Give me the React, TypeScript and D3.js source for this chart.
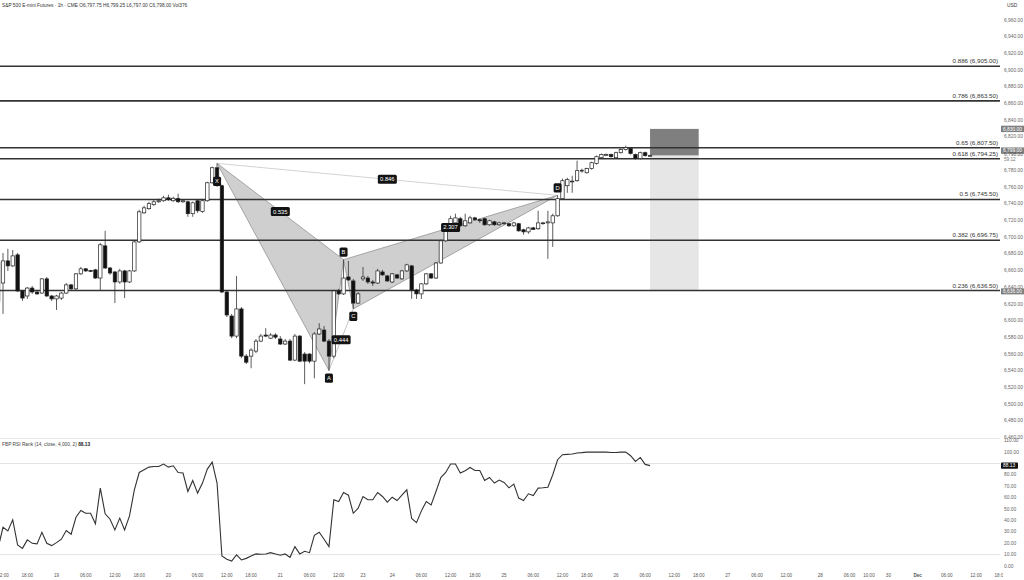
import React from "react";
import * as d3 from "d3";

// ---------- data ----------
const FIRST_BAR = -1; // bar index of the first entry (bar 0 = Nov 18, 12:00)
// [open, high, low, close]
const ohlc: number[][] = [
  [6624, 6678, 6610, 6670],
  [6645.5, 6681.5, 6608.5, 6672], [6672, 6686.5, 6660, 6666], [6666, 6685, 6664.75, 6678], [6679.25, 6681.5, 6634.75, 6636],
  [6636, 6637.25, 6624, 6627.5], [6630, 6640.75, 6626.5, 6639.5], [6639.5, 6642, 6632.5, 6634.75], [6634.75, 6637.25, 6631.25, 6632.5],
  [6633.5, 6651.5, 6632.5, 6650.5], [6650.5, 6652.75, 6628.75, 6630], [6630, 6631.25, 6624, 6626.5], [6626.5, 6631.25, 6613.25, 6630],
  [6627.5, 6634.75, 6625.25, 6633.5], [6633.5, 6645.5, 6632.5, 6643.25], [6643.25, 6644.5, 6637.25, 6638.5], [6638.5, 6657.5, 6636, 6656.5],
  [6656.5, 6664.75, 6655.25, 6662.5], [6662.5, 6663.5, 6658.75, 6660], [6660.5, 6661.25, 6658.75, 6659.5], [6661.25, 6662.5, 6650.5, 6651.5],
  [6651.5, 6693.5, 6636, 6691.25], [6690, 6708, 6662.5, 6663.5], [6663.5, 6664.75, 6655.25, 6657.5], [6658.75, 6660, 6621.5, 6646.75],
  [6646.75, 6662.5, 6644.5, 6660], [6660, 6661.25, 6627.5, 6646.75], [6646.75, 6661.25, 6645.5, 6660], [6660, 6696, 6658.75, 6694.75],
  [6694.75, 6733.25, 6693.5, 6730.75], [6729.5, 6738, 6728.5, 6735.5], [6734.5, 6742.75, 6733.25, 6740.5], [6739.25, 6745.25, 6738, 6742.75],
  [6742.75, 6746.5, 6741.5, 6744], [6744, 6750, 6742.75, 6747.5], [6747.5, 6751.25, 6744, 6745.25], [6744, 6748.75, 6742.75, 6747],
  [6746.5, 6752.5, 6741.5, 6742.75], [6742.75, 6745.25, 6741.5, 6744], [6742.75, 6744, 6724.75, 6728.5], [6728.5, 6743, 6724.75, 6741.5],
  [6744, 6745.25, 6729.5, 6732], [6731, 6745.25, 6729.5, 6744], [6744, 6766.75, 6742.75, 6765.5], [6765.5, 6784.75, 6764.5, 6783.5],
  [6783.5, 6788.75, 6760.75, 6762], [6762, 6763.25, 6633.5, 6634.75], [6634.75, 6636, 6604.75, 6607.25], [6606, 6608.5, 6579.5, 6582],
  [6582, 6654, 6579.5, 6614.5], [6614.5, 6616.75, 6555.5, 6558], [6558, 6560.5, 6548.5, 6550.75], [6558, 6567.5, 6543.5, 6565.25],
  [6564, 6578.5, 6561.5, 6576], [6576, 6584.5, 6574.75, 6582], [6583.25, 6591.5, 6580.75, 6582], [6579.5, 6585.5, 6578.5, 6583.25],
  [6583.25, 6585.5, 6578.5, 6580.75], [6578.5, 6582, 6571.25, 6572.5], [6572.5, 6578.5, 6571.25, 6576], [6576, 6578.5, 6552, 6553.25],
  [6553.25, 6584.5, 6552, 6582], [6582, 6583.25, 6550.75, 6552], [6560.5, 6562.75, 6524.5, 6552], [6560.5, 6561.5, 6549.5, 6552],
  [6552, 6586.75, 6531.5, 6584.5], [6584.5, 6597.5, 6583.25, 6590.5], [6589.25, 6594, 6574.75, 6576], [6576, 6578.5, 6540.75, 6558],
  [6558, 6637.25, 6555.5, 6636], [6636, 6638.5, 6631.25, 6632.5], [6632.5, 6673.5, 6631.25, 6651.5], [6652.75, 6672, 6648, 6649.25],
  [6648, 6650.5, 6614.5, 6621.5], [6621.5, 6634.75, 6620.5, 6632.5], [6650.5, 6664.75, 6648, 6652.75], [6651.5, 6654, 6644.5, 6646.75],
  [6646.75, 6649.25, 6642, 6645.5], [6645.5, 6662.5, 6644.5, 6660], [6658.75, 6661.25, 6654, 6655.25], [6654, 6655.25, 6646.75, 6648],
  [6646.75, 6657.5, 6645.5, 6656.5], [6655.25, 6656.5, 6650.5, 6651.5], [6650.5, 6661.25, 6649.25, 6660], [6660, 6668.5, 6658.75, 6667.25],
  [6666, 6667.25, 6626.5, 6637.25], [6637.25, 6638.5, 6626.5, 6632.5], [6632.5, 6645.5, 6626.5, 6644.5], [6644.5, 6657.5, 6643.25, 6656.5],
  [6656.5, 6657.5, 6650.5, 6651.5], [6651.5, 6670.75, 6650.5, 6669.5], [6669.5, 6697.25, 6668.5, 6696], [6696, 6714, 6694.75, 6711.5],
  [6711.5, 6726, 6710.5, 6722.5], [6717.5, 6728.5, 6716.5, 6723.5], [6722.5, 6724.75, 6712.75, 6714], [6714, 6728.5, 6712.75, 6720],
  [6717.5, 6726, 6716.5, 6723.5], [6723.5, 6724.75, 6720, 6721.25], [6721.25, 6722.5, 6717.5, 6720], [6722.5, 6723.5, 6714, 6715.25],
  [6715.25, 6721.25, 6714, 6720], [6718.75, 6720, 6714, 6715.25], [6715.25, 6718.75, 6714, 6717.5], [6716.5, 6718.75, 6715.25, 6717.5],
  [6716.5, 6717.5, 6712.75, 6714], [6714, 6718.75, 6712.75, 6717.5], [6716.5, 6717.5, 6706.75, 6708], [6709.25, 6710.5, 6703.25, 6706.75],
  [6706.75, 6712.75, 6704.5, 6711.5], [6711.5, 6712.75, 6709.25, 6709.75], [6710.5, 6732, 6709.25, 6717.5], [6717, 6718.75, 6715.25, 6717.5],
  [6717.5, 6732, 6674.5, 6718.75], [6717.5, 6728.5, 6688.75, 6726], [6726, 6750.5, 6724.75, 6746.5], [6746.5, 6770.5, 6745.25, 6768],
  [6762, 6771.5, 6753.5, 6769.25], [6766.75, 6774, 6753.5, 6767.5], [6768, 6792, 6766.75, 6780], [6780, 6782.5, 6777.5, 6780.5],
  [6777.5, 6783.5, 6776.5, 6782.5], [6782.5, 6790.75, 6781.25, 6789.5], [6788.5, 6798, 6787.25, 6796.75], [6795.5, 6800.5, 6794.5, 6799.25],
  [6798.5, 6800.5, 6798, 6799.25], [6799.25, 6800.5, 6795.5, 6796.75], [6795.5, 6802.75, 6794.5, 6801.5], [6801.5, 6806.5, 6800.5, 6805.25],
  [6805.25, 6810, 6804, 6807.5], [6806.5, 6807.5, 6799.25, 6800.5], [6799.25, 6800.5, 6793.25, 6794.5], [6794.5, 6802.75, 6793.25, 6801.5],
  [6801.5, 6802.75, 6796.75, 6798], [6797.75, 6799.25, 6797, 6798],
];

const rsiValues: number[] = [
  15.9,
  34.0, 30.8, 40.5, 18.5, 15.5, 22.9, 19.9, 19.4, 29.6, 19.9,
  17.9, 20.5, 23.5, 31.1, 27.9, 42.8, 48.7, 46.3, 46.3, 37.0,
  68.4, 45.8, 41.1, 31.7, 42.0, 31.7, 44.0, 66.9, 82.1, 84.5,
  86.8, 87.4, 87.4, 89.5, 86.8, 88.0, 82.1, 81.6, 65.4, 75.1,
  64.0, 72.8, 85.1, 91.2, 72.8, 8.8, 5.9, 4.4, 9.7, 5.3,
  6.7, 8.8, 10.6, 10.3, 10.6, 11.7, 10.6, 9.4, 10.6, 7.6,
  17.0, 10.6, 12.9, 11.7, 27.0, 29.6, 23.5, 17.0, 58.1, 56.6,
  64.5, 62.2, 46.3, 50.7, 61.0, 58.1, 58.1, 64.5, 61.0, 56.0,
  60.4, 57.5, 62.2, 66.9, 41.7, 38.1, 48.4, 56.6, 53.7, 65.4,
  77.7, 82.1, 89.5, 89.5, 81.6, 83.6, 86.5, 83.9, 83.9, 75.1,
  77.7, 72.8, 75.4, 73.3, 68.6, 71.9, 59.6, 57.5, 63.4, 61.9,
  68.4, 68.7, 69.2, 80.1, 93.3, 97.7, 98.0, 98.3, 99.2, 99.5,
  100, 100, 100, 100, 100, 99.7, 99.7, 100, 100, 96.8,
  91.8, 95.3, 89.2, 88.13,
];

const fibLevels = [0.236, 0.382, 0.5, 0.618, 0.65, 0.786, 0.886];
const fibPrices = [6636.5, 6696.75, 6745.5, 6794.25, 6807.5, 6863.5, 6905.0];

const priceTicks = d3.range(6460, 6961, 20).filter((v) => v !== 6800);
const rsiTicks = d3.range(0, 111, 10).filter((v) => v !== 90);
const rsiLevels = [90, 10];

const timeTickBars = [0, 5, 11, 17, 23, 28, 34, 40, 46, 51, 57, 63, 69, 74, 80, 86, 92, 97, 103, 109, 115, 120, 126, 132, 138, 143, 149, 155, 161, 168, 174, 178, 182, 188, 194, 200, 205];
const timeTickLabels = ["12:00", "18:00", "19", "06:00", "12:00", "18:00", "20", "06:00", "12:00", "18:00", "21", "06:00", "12:00", "23", "24", "06:00", "12:00", "18:00", "25", "06:00", "12:00", "18:00", "26", "06:00", "12:00", "18:00", "27", "06:00", "12:00", "28", "06:00", "10:00", "30", "Dec", "06:00", "12:00", "18:00"];

const patternNames = ["X", "A", "B", "C", "D"];
const patternBars = [44, 67, 70, 72, 114];
const patternPrices = [6788.75, 6540.75, 6673.5, 6614.5, 6750.5];
const ratioLabels = ["0.535", "0.846", "0.444", "2.307"];
const ratioPairs = [[0, 2], [0, 4], [1, 3], [2, 4]];

const positionBars = [133, 143];
const stopPrice = 6830;
const entryPrice = 6798;
const targetPrice = 6636;

const headerText = "S&P 500 E-mini Futures · 1h · CME  O6,797.75  H6,799.25  L6,797.00  C6,798.00  Vol376";

// ---------- chart ----------
const FONT = "'Liberation Sans', Arial, sans-serif";

export default function App() {
  const W = 1024, H = 580, PLOT_R = 1000;
  const x = d3.scaleLinear().domain([0, 1]).range([3, 3 + 4.865]);
  const y = d3.scaleLinear().domain([6460, 6960]).range([438, 20.3]);
  const yr = d3.scaleLinear().domain([0, 110]).range([566, 440.7]);
  const fmt = d3.format(",.2f");
  const bodyW = 3.4;

  const pts = patternBars.map((b, k) => [x(b), y(patternPrices[k])] as [number, number]);
  const tri = (a: number, b: number, c: number) => d3.line()([pts[a], pts[b], pts[c], pts[a]]) as string;
  const rsiLine = d3.line<number>().x((_, k) => x(FIRST_BAR + k)).y((v) => yr(v))(rsiValues) as string;
  const labelOffset = [18, 7.5, -7.5, 7.5, -7.5];

  return (
    <svg width={W} height={H} style={{ position: "fixed", left: 0, top: 0, background: "#fff" }} fontFamily={FONT}>
      <defs>
        <clipPath id="plot"><rect x={0} y={0} width={PLOT_R} height={438} /></clipPath>
        <clipPath id="rsi"><rect x={0} y={439} width={PLOT_R} height={130} /></clipPath>
        <clipPath id="time"><rect x={0} y={568} width={1003} height={12} /></clipPath>
      </defs>
      <rect x={0} y={0} width={W} height={H} fill="#fff" />

      {/* header */}
      <text x={2} y={6.5} fontSize={4.8} fill="#333">{headerText}</text>
      <text x={1007} y={6.5} fontSize={4.8} fill="#333">USD</text>

      <g clipPath="url(#plot)">
        {/* position boxes */}
        <rect x={x(positionBars[0])} width={x(positionBars[1]) - x(positionBars[0])} y={y(stopPrice)} height={y(entryPrice) - y(stopPrice)} fill="#7f7f7f" />
        <rect x={x(positionBars[0])} width={x(positionBars[1]) - x(positionBars[0])} y={y(entryPrice)} height={y(targetPrice) - y(entryPrice)} fill="#e6e6e6" />

        {/* pattern fills */}
        <path d={tri(0, 1, 2)} fill="#cfcfcf" stroke="#8a8a8a" strokeWidth={0.7} />
        <path d={tri(2, 3, 4)} fill="#cfcfcf" stroke="#8a8a8a" strokeWidth={0.7} />
        <line x1={pts[0][0]} y1={pts[0][1]} x2={pts[4][0]} y2={pts[4][1]} stroke="#b5b5b5" strokeWidth={0.6} />
        <line x1={pts[1][0]} y1={pts[1][1]} x2={pts[3][0]} y2={pts[3][1]} stroke="#9a9a9a" strokeWidth={0.6} />

        {/* fib lines */}
        {fibPrices.map((p, k) => (
          <g key={"f" + k}>
            <line x1={0} x2={PLOT_R} y1={y(p)} y2={y(p)} stroke="#333" strokeWidth={1.6} />
            <text x={998} y={y(p) - 3} fontSize={6.2} fill="#333" textAnchor="end">{`${fibLevels[k]} (${fmt(p)})`}</text>
          </g>
        ))}

        {/* candles */}
        {ohlc.map((c, k) => {
          const [o, h, l, cl] = c;
          const cx = x(FIRST_BAR + k);
          const up = cl >= o;
          const top = y(Math.max(o, cl));
          const bh = Math.max(0.8, Math.abs(y(o) - y(cl)));
          return (
            <g key={"c" + k}>
              <line x1={cx} x2={cx} y1={y(h)} y2={y(l)} stroke="#333" strokeWidth={0.8} />
              <rect x={cx - bodyW / 2} width={bodyW} y={top} height={bh} fill={up ? "#fff" : "#111"} stroke="#222" strokeWidth={0.7} />
            </g>
          );
        })}

        {/* ratio labels */}
        {ratioPairs.map(([a, b], k) => {
          const mx = (pts[a][0] + pts[b][0]) / 2;
          const my = (pts[a][1] + pts[b][1]) / 2;
          return (
            <g key={"r" + k}>
              <rect x={mx - 9.5} y={my - 4.5} width={19} height={9} rx={1.5} fill="#131313" />
              <text x={mx} y={my + 2} fontSize={5.8} fill="#fff" textAnchor="middle">{ratioLabels[k]}</text>
            </g>
          );
        })}

        {/* point labels */}
        {patternNames.map((n, k) => {
          const cy = pts[k][1] + labelOffset[k];
          return (
            <g key={"p" + k}>
              <rect x={pts[k][0] - 4} y={cy - 4.6} width={8} height={9.2} rx={1.5} fill="#131313" />
              <text x={pts[k][0]} y={cy + 2} fontSize={5.8} fill="#fff" textAnchor="middle">{n}</text>
            </g>
          );
        })}
      </g>

      {/* price axis */}
      {priceTicks.map((v) => (
        <text key={"pt" + v} x={1004} y={y(v) + 1.2} fontSize={4.9} fill="#666">{fmt(v)}</text>
      ))}
      <rect x={1001} y={y(stopPrice) - 3.2} width={23} height={6.4} fill="#7f7f7f" />
      <text x={1003} y={y(stopPrice) + 1.7} fontSize={4.9} fill="#fff">{fmt(stopPrice)}</text>
      <rect x={1001} y={y(entryPrice) - 8.2} width={23} height={6.4} fill="#7f7f7f" />
      <text x={1003} y={y(entryPrice) - 3.3} fontSize={4.9} fill="#fff">{fmt(entryPrice + 1)}</text>
      <text x={1004} y={y(entryPrice) + 0.8} fontSize={4.9} fill="#555">{fmt(entryPrice)}</text>
      <text x={1004} y={y(entryPrice) + 5} fontSize={4.6} fill="#777">59:12</text>
      <rect x={1001} y={y(targetPrice) - 2.6} width={23} height={6} fill="#7f7f7f" />
      <text x={1003} y={y(targetPrice) + 1.8} fontSize={4.9} fill="#fff">{fmt(targetPrice)}</text>

      {/* pane separator */}
      <line x1={0} x2={PLOT_R} y1={438.5} y2={438.5} stroke="#e6e6e6" strokeWidth={1} />

      {/* RSI pane */}
      <text x={2} y={446} fontSize={4.8} fill="#444">FBP RSI Rank (14, close, 4,000, 2) <tspan fontWeight="bold" fill="#222">88.13</tspan></text>
      {rsiLevels.map((v) => (
        <line key={"rl" + v} x1={0} x2={PLOT_R} y1={yr(v)} y2={yr(v)} stroke="#e3e3e3" strokeWidth={1} />
      ))}
      <g clipPath="url(#rsi)">
        <path d={rsiLine} fill="none" stroke="#333" strokeWidth={1.1} />
      </g>
      {rsiTicks.map((v) => (
        <text key={"rt" + v} x={1004} y={yr(v) + 1.6} fontSize={4.9} fill="#666">{fmt(v)}</text>
      ))}
      <rect x={1001} y={yr(88.13) - 3.2} width={17} height={6.4} rx={0.8} fill="#111" />
      <text x={1003} y={yr(88.13) + 1.7} fontSize={4.9} fill="#fff">88.13</text>

      {/* time axis */}
      <g clipPath="url(#time)">
        {timeTickBars.map((b, k) => (
          <text key={"tt" + k} x={x(b)} y={577} fontSize={4.6} fill="#555" textAnchor="middle" fontWeight={timeTickLabels[k] === "Dec" ? "bold" : "normal"}>
            {timeTickLabels[k]}
          </text>
        ))}
      </g>
    </svg>
  );
}
